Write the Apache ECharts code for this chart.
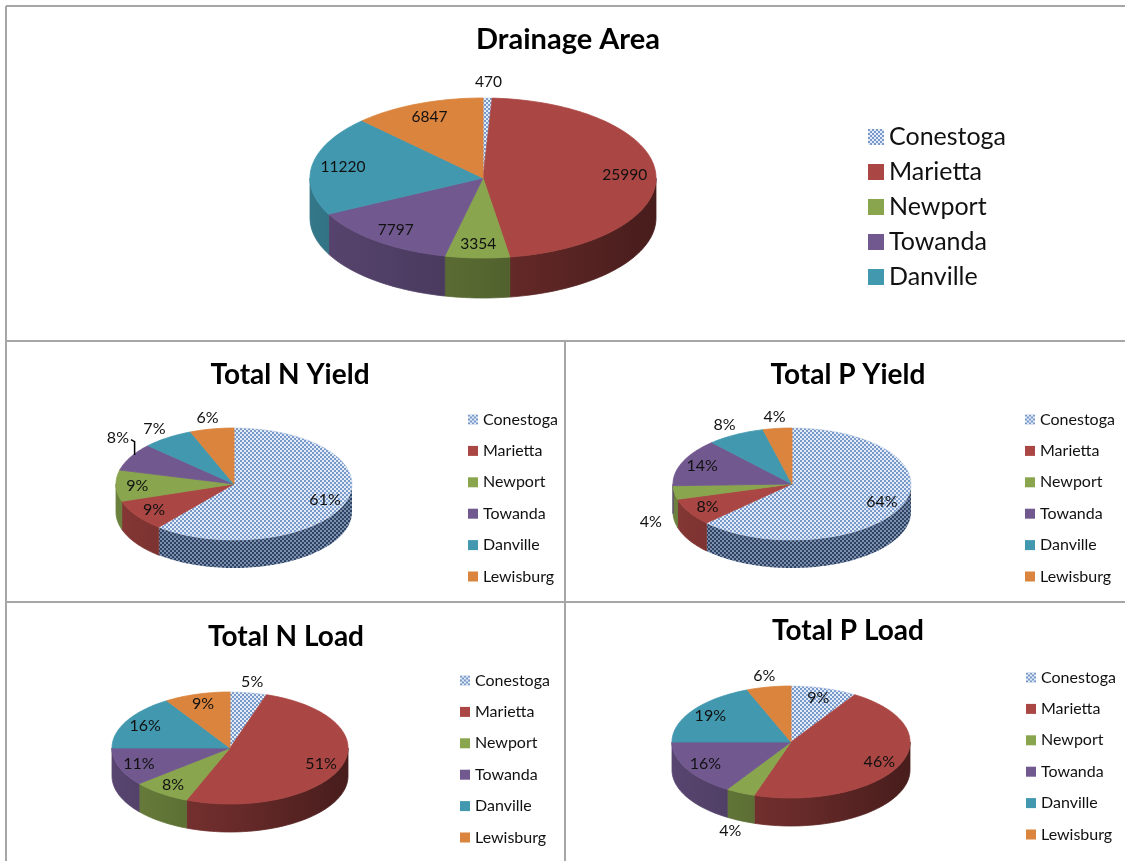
<!DOCTYPE html>
<html lang="en">
<head>
<meta charset="UTF-8">
<title>Drainage Area and Nutrient Pies</title>
<script src="https://cdn.jsdelivr.net/npm/echarts@6/dist/echarts.min.js"></script>
<style>
  html, body { margin: 0; padding: 0; background: #fff; }
  #chart { width: 1125px; height: 861px; }
</style>
</head>
<body>
<div id="chart"></div>
<script>
// data
var sites = ['Conestoga', 'Marietta', 'Newport', 'Towanda', 'Danville', 'Lewisburg'];
var drainageArea = [470, 25990, 3354, 7797, 11220, 6847];
var totalNYield = [61, 9, 9, 8, 7, 6];
var totalPYield = [64, 8, 4, 14, 8, 4];
var totalNLoad = [5, 51, 8, 11, 16, 9];
var totalPLoad = [9, 46, 4, 16, 19, 6];

var FONT = 'Lato, "Open Sans", sans-serif';
var colors = ['#7294c6', '#aa4643', '#89a54e', '#71588f', '#4198af', '#db843d'];

// checker pattern used for Conestoga
function checker(c1, c2) {
    var cv = document.createElement('canvas');
    cv.width = 4;
    cv.height = 4;
    var ctx = cv.getContext('2d');
    ctx.fillStyle = c1;
    ctx.fillRect(0, 0, 4, 4);
    ctx.fillStyle = c2;
    ctx.fillRect(0, 0, 2, 2);
    ctx.fillRect(2, 2, 2, 2);
    return cv;
}
var topPattern = { image: checker('#e4ecf7', '#7899ca'), repeat: 'repeat' };
var sidePattern = { image: checker('#7b8fae', '#2f4262'), repeat: 'repeat' };

function shade(hex, k) {
    var n = parseInt(hex.slice(1), 16);
    var r = Math.round(((n >> 16) & 255) * k);
    var g = Math.round(((n >> 8) & 255) * k);
    var b = Math.round((n & 255) * k);
    return 'rgb(' + r + ',' + g + ',' + b + ')';
}

function pct(v) { return v + '%'; }

// outside: labels put beyond the rim; leader: label nudge [dx, dy] plus a bent line to the rim
var panels = [
    { title: 'Drainage Area', values: drainageArea, fmt: String, cx: 483, cy: 178, a: 173, b: 80, depth: 40,
      titleX: 568, titleY: 25, titleSize: 29, labelSize: 15.5, outside: ['Conestoga'], leader: {},
      legendNames: sites.slice(0, 5), legendX: 868, legendY: 124, legendSize: 25, icon: 16, pitch: 35 },
    { title: 'Total N Yield', values: totalNYield, fmt: pct, cx: 234, cy: 484, a: 118, b: 56, depth: 28,
      titleX: 290, titleY: 361, titleSize: 28, labelSize: 16, outside: ['Towanda', 'Danville', 'Lewisburg'],
      leader: { Towanda: [8, -14] },
      legendNames: sites, legendX: 468, legendY: 411, legendSize: 16, icon: 10, pitch: 31.4 },
    { title: 'Total P Yield', values: totalPYield, fmt: pct, cx: 792, cy: 484, a: 119, b: 56, depth: 28,
      titleX: 848, titleY: 361, titleSize: 28, labelSize: 16, outside: ['Newport', 'Danville', 'Lewisburg'], leader: {},
      legendNames: sites, legendX: 1025, legendY: 411, legendSize: 16, icon: 10, pitch: 31.4 },
    { title: 'Total N Load', values: totalNLoad, fmt: pct, cx: 230, cy: 748, a: 118, b: 56, depth: 28,
      titleX: 286, titleY: 623, titleSize: 28, labelSize: 16, outside: ['Conestoga'], leader: {},
      legendNames: sites, legendX: 460, legendY: 672, legendSize: 16, icon: 10, pitch: 31.4 },
    { title: 'Total P Load', values: totalPLoad, fmt: pct, cx: 791, cy: 742, a: 119, b: 56, depth: 28,
      titleX: 848, titleY: 617, titleSize: 28, labelSize: 16, outside: ['Newport', 'Lewisburg'], leader: {},
      legendNames: sites, legendX: 1026, legendY: 669, legendSize: 16, icon: 10, pitch: 31.4 }
];

function sum(arr) { return arr.reduce(function (s, v) { return s + v; }, 0); }

function sliceData(values) {
    var acc = 0;
    return values.map(function (v, i) {
        var d = [acc, acc + v, i];
        acc += v;
        return d;
    });
}

// tilted pie: polar coords squashed vertically, with the front wall added
function makeRenderer(p) {
    var total = sum(p.values);
    var tilt = p.b / p.a;
    return function (params, api) {
        var start = api.value(0), end = api.value(1), i = api.value(2);
        var c = api.coord([0, 0]);
        function pt(v, r) {
            var q = api.coord([r, v]);
            return [q[0], c[1] + (q[1] - c[1]) * tilt];
        }
        function arc(s, e) {
            var n = Math.max(2, Math.ceil((e - s) / total * 200));
            var pts = [];
            for (var k = 0; k <= n; k++) pts.push(pt(s + (e - s) * k / n, 1));
            return pts;
        }
        var children = [];
        var topPts = [[c[0], c[1]]].concat(arc(start, end));
        children.push({
            type: 'polygon', z2: 10,
            shape: { points: topPts },
            style: i === 0 ? { fill: topPattern, stroke: '#b4c6e2', lineWidth: 0.5 }
                           : { fill: colors[i], stroke: colors[i], lineWidth: 0.8 }
        });
        var s = Math.max(start, total * 0.25), e = Math.min(end, total * 0.75);
        if (e > s) {
            var upper = arc(s, e);
            var lower = upper.map(function (q) { return [q[0], q[1] + p.depth]; }).reverse();
            var fill = i === 0 ? sidePattern : new echarts.graphic.LinearGradient(
                c[0] - p.a, 0, c[0] + p.a, 0,
                [{ offset: 0, color: shade(colors[i], 0.78) },
                 { offset: 0.5, color: shade(colors[i], 0.62) },
                 { offset: 1, color: shade(colors[i], 0.42) }], true);
            children.push({
                type: 'polygon', z2: 5,
                shape: { points: upper.concat(lower) },
                style: i === 0 ? { fill: fill } : { fill: fill, stroke: fill, lineWidth: 0.8 }
            });
        }
        var mid = (start + end) / 2;
        var out = p.outside.indexOf(sites[i]) >= 0;
        var lp = pt(mid, out ? 1.2 : 0.82);
        if (out && lp[1] > c[1]) lp[1] += p.depth;
        var nudge = p.leader[sites[i]];
        if (nudge) {
            lp = [lp[0] + nudge[0], lp[1] + nudge[1]];
            var rim = pt(mid, 1.0);
            children.push({
                type: 'polyline', z2: 100,
                shape: { points: [[lp[0] + 13, lp[1] + 2], [rim[0] + 4, lp[1] + 4], [rim[0] + 4, rim[1] - 2]] },
                style: { stroke: '#000', lineWidth: 1.5, fill: null }
            });
        }
        children.push({
            type: 'text', z2: 100, x: lp[0], y: lp[1],
            style: {
                text: p.fmt(p.values[i]), fill: '#111',
                fontSize: p.labelSize, fontFamily: FONT,
                align: 'center', verticalAlign: 'middle'
            }
        });
        return { type: 'group', children: children };
    };
}

var lineStyle = { stroke: '#a6a6a6', lineWidth: 2 };
var borders = [
    [6, 6, 1125, 6], [6, 6, 6, 861], [6, 341, 1125, 341],
    [6, 602, 1125, 602], [565, 341, 565, 861]
].map(function (l) {
    return { type: 'line', shape: { x1: l[0], y1: l[1], x2: l[2], y2: l[3] }, style: lineStyle, silent: true };
});

var option = {
    animation: false,
    backgroundColor: '#fff',
    title: panels.map(function (p) {
        return {
            text: p.title, left: p.titleX, top: p.titleY, textAlign: 'center', padding: 0,
            textStyle: { fontFamily: FONT, fontWeight: 'bold', fontSize: p.titleSize, color: '#000' }
        };
    }),
    legend: panels.map(function (p) {
        var lh = p.legendSize + 1;
        return {
            orient: 'vertical', left: p.legendX, top: p.legendY, padding: 0,
            icon: 'rect', itemWidth: p.icon, itemHeight: p.icon,
            itemGap: p.pitch - lh, selectedMode: false,
            textStyle: { fontFamily: FONT, fontSize: p.legendSize, lineHeight: lh, color: '#111' },
            data: p.legendNames
        };
    }),
    polar: panels.map(function (p) { return { center: [p.cx, p.cy], radius: p.a }; }),
    angleAxis: panels.map(function (p, k) {
        return {
            polarIndex: k, type: 'value', min: 0, max: sum(p.values), startAngle: 90, clockwise: true,
            show: false, axisLine: { show: false }, axisTick: { show: false },
            axisLabel: { show: false }, splitLine: { show: false }
        };
    }),
    radiusAxis: panels.map(function (p, k) {
        return {
            polarIndex: k, type: 'value', min: 0, max: 1,
            show: false, axisLine: { show: false }, axisTick: { show: false },
            axisLabel: { show: false }, splitLine: { show: false }
        };
    }),
    graphic: borders,
    series: panels.map(function (p, k) {
        return {
            type: 'custom', name: p.title, coordinateSystem: 'polar', polarIndex: k,
            renderItem: makeRenderer(p), data: sliceData(p.values), silent: true
        };
    }).concat([{
        // legend provider only, drawn off canvas
        type: 'pie', name: 'sites', radius: [0, 1], center: [-200, -200], silent: true,
        label: { show: false }, labelLine: { show: false },
        data: sites.map(function (n, i) {
            return { name: n, value: totalNYield[i], itemStyle: { color: i === 0 ? topPattern : colors[i] } };
        })
    }])
};

var chart = echarts.init(document.getElementById('chart'));
chart.setOption(option);
</script>
</body>
</html>
